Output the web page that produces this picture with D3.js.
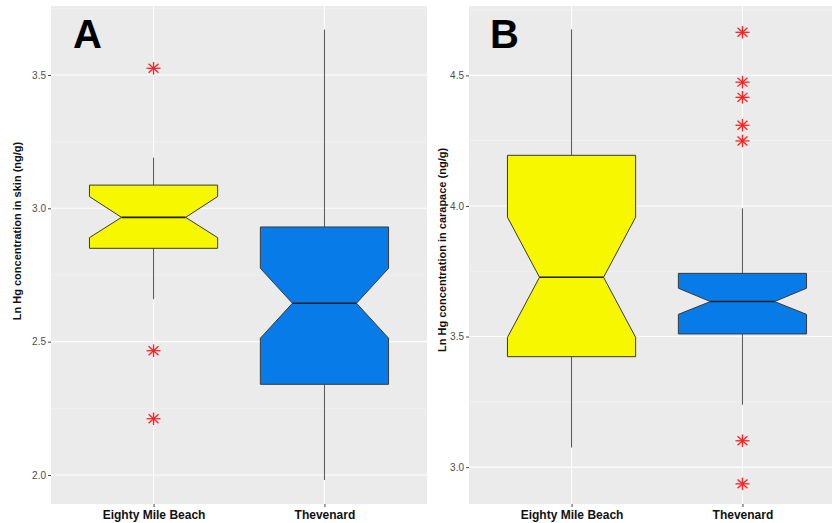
<!DOCTYPE html>
<html><head><meta charset="utf-8">
<script src="https://cdn.jsdelivr.net/npm/d3@7"></script>
<style>body{margin:0;background:#fff}svg{display:block}</style>
</head><body>
<svg id="c" width="832" height="523"></svg>
<script>
const categories = ["Eighty Mile Beach", "Thevenard"];

// Panel A: skin
const skinLowerWhisker = [2.659, 1.981];
const skinQ1 = [2.850, 2.340];
const skinNotchLow = [2.890, 2.513];
const skinMedian = [2.966, 2.644];
const skinNotchHigh = [3.044, 2.775];
const skinQ3 = [3.087, 2.930];
const skinUpperWhisker = [3.190, 3.670];
const skinOutliers = [[3.525, 2.466, 2.211], []];
const skinTicks = [2.0, 2.5, 3.0, 3.5];
const skinMinor = [2.25, 2.75, 3.25, 3.75];

// Panel B: carapace
const carLowerWhisker = [3.075, 3.239];
const carQ1 = [3.423, 3.510];
const carNotchLow = [3.497, 3.585];
const carMedian = [3.727, 3.634];
const carNotchHigh = [3.957, 3.685];
const carQ3 = [4.194, 3.742];
const carUpperWhisker = [4.676, 3.991];
const carOutliers = [[], [4.665, 4.474, 4.416, 4.309, 4.249, 3.101, 2.936]];
const carTicks = [3.0, 3.5, 4.0, 4.5];
const carMinor = [3.25, 3.75, 4.25, 4.75];

const fills = ["#f7f700", "#077ce8"];
const svg = d3.select("#c");
const FONT = "'Liberation Sans', Arial, Helvetica, sans-serif";

function panel(opt) {
  const g = svg.append("g");
  const x = d3.scalePoint().domain(categories).range([opt.left, opt.right]).padding(0.6);
  const y = d3.scaleLinear().domain(opt.domain).range([opt.bottom, opt.top]);
  const clipId = "clip" + opt.label;
  svg.append("clipPath").attr("id", clipId).append("rect")
    .attr("x", opt.left).attr("y", opt.top).attr("width", opt.right - opt.left).attr("height", opt.bottom - opt.top);
  const p = g.append("g").attr("clip-path", `url(#${clipId})`);
  p.append("rect").attr("x", opt.left).attr("y", opt.top)
    .attr("width", opt.right - opt.left).attr("height", opt.bottom - opt.top).attr("fill", "#ebebeb");
  // minor grid
  p.selectAll(".mn").data(opt.minor).join("line")
    .attr("x1", opt.left).attr("x2", opt.right)
    .attr("y1", d => y(d)).attr("y2", d => y(d))
    .attr("stroke", "#f4f4f4").attr("stroke-width", 0.6);
  // major grid
  p.selectAll(".mj").data(opt.ticks).join("line")
    .attr("x1", opt.left).attr("x2", opt.right)
    .attr("y1", d => y(d)).attr("y2", d => y(d))
    .attr("stroke", "#ffffff").attr("stroke-width", 1.1);
  p.selectAll(".vx").data(categories).join("line")
    .attr("x1", d => x(d)).attr("x2", d => x(d))
    .attr("y1", opt.top).attr("y2", opt.bottom)
    .attr("stroke", "#ffffff").attr("stroke-width", 1.1);

  const bw = x.step() * 0.75;
  const nw = bw * 0.5;
  categories.forEach((c, i) => {
    const cx = x(c);
    // whiskers
    p.append("line").attr("x1", cx).attr("x2", cx)
      .attr("y1", y(opt.q3[i])).attr("y2", y(opt.uw[i]))
      .attr("stroke", "#555").attr("stroke-width", 1);
    p.append("line").attr("x1", cx).attr("x2", cx)
      .attr("y1", y(opt.q1[i])).attr("y2", y(opt.lw[i]))
      .attr("stroke", "#555").attr("stroke-width", 1);
    const L = cx - bw / 2, R = cx + bw / 2, nl = cx - nw / 2, nr = cx + nw / 2;
    const pts = [
      [L, y(opt.q3[i])], [R, y(opt.q3[i])], [R, y(opt.nh[i])], [nr, y(opt.med[i])],
      [R, y(opt.nl[i])], [R, y(opt.q1[i])], [L, y(opt.q1[i])], [L, y(opt.nl[i])],
      [nl, y(opt.med[i])], [L, y(opt.nh[i])]
    ];
    p.append("path").attr("d", d3.line()(pts) + "Z")
      .attr("fill", fills[i]).attr("stroke", "#3a3a3a").attr("stroke-width", 1);
    p.append("line").attr("x1", nl).attr("x2", nr)
      .attr("y1", y(opt.med[i])).attr("y2", y(opt.med[i]))
      .attr("stroke", "#1a1a1a").attr("stroke-width", 1.6);
    // outliers (asterisks)
    const r = 7;
    opt.out[i].forEach(v => {
      const s = p.append("g").attr("transform", `translate(${cx},${y(v)})`)
        .attr("stroke", "#ff2020").attr("stroke-width", 1.3);
      [0, 45, 90, 135].forEach(a => {
        const rad = a * Math.PI / 180;
        s.append("line").attr("x1", -r * Math.cos(rad)).attr("y1", -r * Math.sin(rad) * 0.9)
          .attr("x2", r * Math.cos(rad)).attr("y2", r * Math.sin(rad) * 0.9);
      });
    });
  });

  // y axis
  const ya = g.append("g").attr("transform", `translate(${opt.left},0)`)
    .call(d3.axisLeft(y).tickValues(opt.ticks).tickFormat(d3.format(".1f")).tickSize(3).tickPadding(2));
  ya.select(".domain").remove();
  ya.selectAll(".tick line").attr("stroke", "#444");
  ya.selectAll(".tick text").attr("fill", "#4d4d4d").style("font-family", FONT).style("font-size", "10px");
  // x axis
  const xa = g.append("g").attr("transform", `translate(0,${opt.bottom})`)
    .call(d3.axisBottom(x).tickSize(3).tickPadding(3));
  xa.select(".domain").remove();
  xa.selectAll(".tick line").attr("stroke", "#444");
  xa.selectAll(".tick text").attr("fill", "#111").style("font-family", FONT)
    .style("font-size", "12px").style("font-weight", "bold");

  // y title
  g.append("text").attr("transform", `translate(${opt.titleX},${opt.titleY}) rotate(-90)`)
    .attr("text-anchor", "middle").style("font-family", FONT).style("font-size", "11px")
    .style("font-weight", "bold").attr("fill", "#111").text(opt.title);
  // panel letter
  g.append("text").attr("x", opt.letterX).attr("y", 48)
    .style("font-family", FONT).style("font-size", "40px").style("font-weight", "bold")
    .attr("fill", "#000").text(opt.label);
}

panel({
  label: "A", left: 51, right: 427, top: 6, bottom: 504, domain: [1.8913, 3.7585],
  ticks: skinTicks, minor: skinMinor,
  lw: skinLowerWhisker, q1: skinQ1, nl: skinNotchLow, med: skinMedian, nh: skinNotchHigh,
  q3: skinQ3, uw: skinUpperWhisker, out: skinOutliers,
  title: "Ln Hg concentration in skin (ng/g)", titleX: 21, titleY: 231, letterX: 73
});
panel({
  label: "B", left: 469, right: 845, top: 6, bottom: 504, domain: [2.8589, 4.7657],
  ticks: carTicks, minor: carMinor,
  lw: carLowerWhisker, q1: carQ1, nl: carNotchLow, med: carMedian, nh: carNotchHigh,
  q3: carQ3, uw: carUpperWhisker, out: carOutliers,
  title: "Ln Hg concentration in carapace (ng/g)", titleX: 446, titleY: 250, letterX: 490
});
</script>
</body></html>
